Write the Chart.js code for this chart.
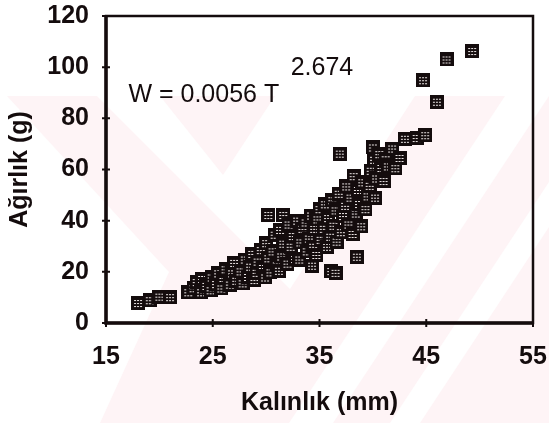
<!DOCTYPE html>
<html>
<head>
<meta charset="utf-8">
<script src="https://cdn.jsdelivr.net/npm/chart.js@4.4.1/dist/chart.umd.min.js"></script>
<style>
  html, body { margin: 0; padding: 0; background: #fff; }
  #wrap { width: 549px; height: 423px; }
</style>
</head>
<body>
<div id="wrap"><canvas id="lwChart" width="549" height="423"></canvas></div>
<script>
// Kabuk kalınlığı (mm) ve ağırlık (g) ölçümleri
const thickness = [
  18.0, 19.1, 20.0, 21.0, 22.7, 23.2, 23.5,
  23.9, 24.0, 24.4, 24.8, 24.9, 25.3, 25.5, 25.8, 26.0, 26.2, 26.6, 26.8, 27.0, 27.2,
  27.6, 27.8, 28.0, 28.3, 28.5, 28.7, 28.9, 29.1, 29.2,
  29.5, 29.7, 29.9, 30.0, 30.2, 30.4, 30.6, 30.8, 31.0, 31.2, 31.3, 31.4, 31.6,
  30.2, 31.6,
  32.0, 32.1, 32.3, 32.5, 32.7, 32.9, 33.1, 33.2, 33.4,
  33.7, 33.8, 34.0, 34.2, 34.4, 34.5, 34.7, 34.8, 35.0, 35.1, 34.3,
  35.4, 35.5, 35.7, 35.8, 36.0, 36.2, 36.3, 36.5, 36.6, 36.8, 37.0, 37.2,
  36.1, 36.5, 36.9,
  37.4, 37.5, 37.7, 37.9, 38.1, 38.2, 38.4, 38.6, 38.7, 38.9, 39.0, 38.5,
  39.3, 39.5, 39.7, 39.8, 40.0, 40.1, 40.3, 40.2, 40.6, 40.8,
  41.0, 41.2, 41.4, 41.8, 42.1, 42.5,
  43.0, 44.1, 44.9, 44.7, 46.0, 46.9, 49.3
];
const weight = [
  7.8, 8.9, 10.3, 10.1, 12.0, 13.6, 16.0,
  12.0, 17.2, 14.5, 12.8, 17.8, 15.2, 19.4, 13.5, 17.6, 21.0, 15.0, 19.4, 23.5, 16.5,
  20.2, 15.5, 24.8, 18.0, 22.0, 27.0, 16.8, 19.6, 24.0,
  28.5, 21.5, 17.8, 31.2, 25.3, 19.8, 28.0, 34.5, 22.5, 20.4, 36.4, 26.0, 31.0,
  42.2, 42.2,
  23.2, 38.5, 29.8, 34.0, 25.0, 40.0, 24.8, 31.5, 36.8,
  39.3, 28.0, 33.0, 42.0, 29.8, 36.8, 26.6, 40.5, 44.5, 32.5, 22.4,
  36.8, 46.4, 29.8, 41.0, 33.7, 48.0, 38.0, 44.0, 31.8, 50.5, 35.5, 41.8,
  20.3, 19.6, 66.2,
  45.8, 53.4, 38.5, 49.0, 34.8, 57.4, 42.8, 52.0, 46.5, 37.8, 55.0, 25.9,
  44.5, 49.5, 53.6, 59.5, 68.6, 63.8, 56.5, 49.0, 66.0, 60.6,
  55.5, 64.0, 61.2, 68.2, 60.5, 64.5,
  72.0, 72.3, 73.4, 94.9, 86.5, 103.0, 106.3
];
const xTicks = [15, 25, 35, 45, 55];
const yTicks = [0, 20, 40, 60, 80, 100, 120];

const INK = '#140c0d';
const PINK = '#fef4f6';

// taranmış kare işaret
function makeMarker() {
  const c = document.createElement('canvas');
  c.width = 14; c.height = 14;
  const g = c.getContext('2d');
  g.fillStyle = INK;
  g.fillRect(0, 0, 14, 14);
  g.fillStyle = '#ece6e6';
  [4, 7, 10].forEach(r => {
    [3, 6, 9].forEach(col => g.fillRect(col, r, 2, 1));
  });
  return c;
}

// soluk pembe zemin şeritleri
const whiteBands = [
  [[0, 96], [7, 96], [169, 272], [100, 423], [0, 423]],
  [[97, 96], [160, 96], [223, 175], [275, 96], [415, 96], [290, 289]],
  [[505, 96], [549, 96], [333, 423], [289, 423]],
  [[390, 423], [420, 423], [549, 227], [549, 182]]
];
const watermark = {
  id: 'watermark',
  beforeDraw(chart) {
    const ctx = chart.ctx;
    ctx.save();
    ctx.fillStyle = '#fff';
    ctx.fillRect(0, 0, chart.width, chart.height);
    ctx.fillStyle = PINK;
    ctx.fillRect(0, 96, chart.width, chart.height - 96);
    ctx.fillStyle = '#fff';
    whiteBands.forEach(poly => {
      ctx.beginPath();
      poly.forEach(([x, y], i) => i ? ctx.lineTo(x, y) : ctx.moveTo(x, y));
      ctx.closePath();
      ctx.fill();
    });
    ctx.restore();
  }
};

// çerçeve, çapraz tik çizgileri ve denklem
const frame = {
  id: 'frame',
  beforeDatasetsDraw(chart) {
    const { ctx, chartArea: a, scales: { x, y } } = chart;
    ctx.save();
    ctx.strokeStyle = INK;
    ctx.lineWidth = 2.5;
    ctx.strokeRect(a.left, a.top, a.right - a.left, a.bottom - a.top);
    ctx.lineWidth = 3.5;
    ctx.beginPath();
    ctx.moveTo(a.left, a.top); ctx.lineTo(a.left, a.bottom); ctx.lineTo(a.right, a.bottom);
    ctx.stroke();
    ctx.lineWidth = 2;
    ctx.beginPath();
    yTicks.forEach(v => {
      const py = y.getPixelForValue(v);
      ctx.moveTo(a.left - 4, py); ctx.lineTo(a.left + 4, py);
    });
    xTicks.forEach(v => {
      const px = x.getPixelForValue(v);
      ctx.moveTo(px, a.bottom - 4); ctx.lineTo(px, a.bottom + 4);
    });
    ctx.stroke();

    ctx.fillStyle = INK;
    ctx.font = '25px "Liberation Sans", Arial, sans-serif';
    ctx.textBaseline = 'alphabetic';
    ctx.fillText('W = 0.0056 T', x.getPixelForValue(17.1), y.getPixelForValue(86.3));
    ctx.fillText('2.674', x.getPixelForValue(32.3), y.getPixelForValue(97.0));
    ctx.restore();
  }
};

const boldFont = { family: '"Liberation Sans", Arial, sans-serif', size: 25, weight: 'bold', lineHeight: 1.2 };
// görünmez tik boyu etiket boşluğunu verir (ticks.padding kenar boşluğuna eklenir)
const spacer = len => ({ display: true, drawOnChartArea: false, drawTicks: true, tickLength: len, tickColor: 'rgba(0,0,0,0)' });

new Chart(document.getElementById('lwChart'), {
  type: 'scatter',
  data: {
    datasets: [{
      data: thickness.map((t, i) => ({ x: t, y: weight[i] })),
      pointStyle: makeMarker(),
      pointRadius: 7,
      clip: false
    }]
  },
  options: {
    responsive: false,
    animation: false,
    devicePixelRatio: 1,
    layout: { padding: { top: 16, right: 16, left: 0, bottom: 0 } },
    plugins: { legend: { display: false }, tooltip: { enabled: false } },
    scales: {
      x: {
        type: 'linear', min: 15, max: 55,
        afterBuildTicks: s => { s.ticks = xTicks.map(v => ({ value: v })); },
        afterFit: s => { s.height = 100; },
        grid: spacer(19),
        border: { display: false },
        ticks: { color: INK, font: boldFont, padding: 0, maxRotation: 0 },
        title: { display: true, text: 'Kalınlık (mm)', color: INK, font: boldFont, padding: { top: 0, bottom: 5 } }
      },
      y: {
        type: 'linear', min: 0, max: 120,
        afterBuildTicks: s => { s.ticks = yTicks.map(v => ({ value: v })); },
        afterFit: s => { s.width = 106; },
        grid: spacer(17),
        border: { display: false },
        ticks: { color: INK, font: boldFont, padding: 0 },
        title: { display: true, text: 'Ağırlık (g)', color: INK, font: boldFont, padding: { top: 5, bottom: 0 } }
      }
    }
  },
  plugins: [watermark, frame]
});
</script>
</body>
</html>
